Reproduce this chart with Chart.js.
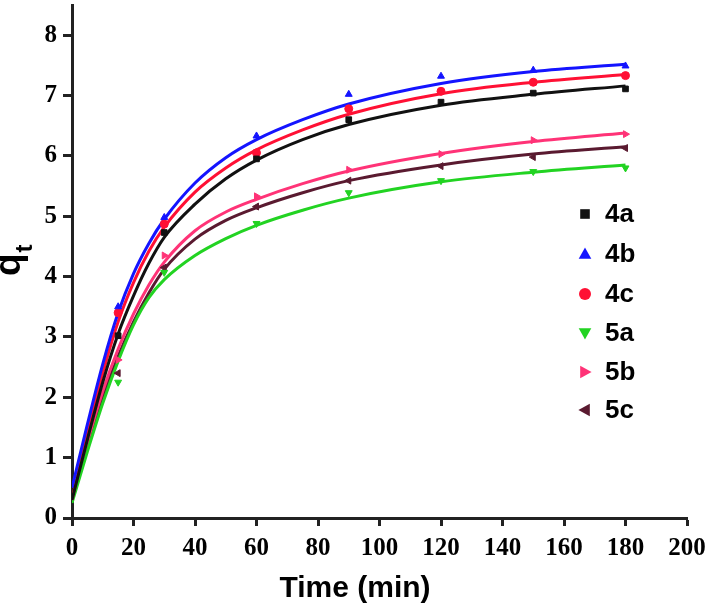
<!DOCTYPE html>
<html><head><meta charset="utf-8">
<script src="https://cdn.jsdelivr.net/npm/chart.js@4/dist/chart.umd.min.js"></script>
<style>html,body{margin:0;padding:0;background:#fff}#wrap{width:708px;height:607px}</style>
</head><body><div id="wrap"><canvas id="c" width="708" height="607"></canvas></div>
<script>
// ---- data ----
const seriesNames = ['4a','4b','4c','5a','5b','5c'];
const timePoints = [15, 30, 60, 90, 120, 150, 180];
const q4a = [3.02, 4.73, 5.95, 6.60, 6.89, 7.04, 7.11];
const q4b = [3.50, 4.98, 6.33, 7.02, 7.32, 7.42, 7.49];
const q4c = [3.40, 4.87, 6.05, 6.78, 7.07, 7.22, 7.33];
const q5a = [2.25, 4.07, 4.88, 5.39, 5.59, 5.74, 5.80];
const q5b = [2.62, 4.35, 5.33, 5.77, 6.03, 6.26, 6.36];
const q5c = [2.40, 4.15, 5.16, 5.59, 5.83, 5.98, 6.13];

// fitted curves
const fitTimes = [0, 5, 10, 15, 20, 25, 30, 40, 50, 60, 75, 90, 120, 150, 180];
const fit4a = [0.30, 1.30, 2.25, 3.05, 3.68, 4.22, 4.65, 5.20, 5.62, 5.93, 6.27, 6.52, 6.84, 7.02, 7.16];
const fit4b = [0.50, 1.55, 2.55, 3.40, 4.05, 4.55, 4.95, 5.55, 5.97, 6.27, 6.60, 6.86, 7.20, 7.40, 7.52];
const fit4c = [0.30, 1.40, 2.40, 3.25, 3.90, 4.42, 4.82, 5.40, 5.80, 6.10, 6.43, 6.69, 7.03, 7.22, 7.35];
const fit5a = [0.25, 1.10, 1.90, 2.60, 3.20, 3.65, 3.95, 4.35, 4.63, 4.85, 5.10, 5.30, 5.57, 5.73, 5.85];
const fit5b = [0.30, 1.25, 2.10, 2.80, 3.38, 3.86, 4.24, 4.76, 5.07, 5.28, 5.54, 5.75, 6.04, 6.24, 6.38];
const fit5c = [0.30, 1.20, 2.00, 2.68, 3.25, 3.73, 4.12, 4.62, 4.93, 5.14, 5.39, 5.59, 5.85, 6.03, 6.15];

const xTickValues = [0, 20, 40, 60, 80, 100, 120, 140, 160, 180, 200];
const yTickValues = [0, 1, 2, 3, 4, 5, 6, 7, 8];

const colors = ['#111111', '#1414ff', '#ff1034', '#22d322', '#ff3377', '#5a1a30'];
const styles = ['rect', 'triangle', 'circle', 'triangle', 'triangle', 'triangle'];
const rotations = [0, 0, 0, 180, 90, 270];
const pointSets = [q4a, q4b, q4c, q5a, q5b, q5c];
const fitSets = [fit4a, fit4b, fit4c, fit5a, fit5b, fit5c];

const datasets = [];
fitSets.forEach((fs, i) => {
  datasets.push({
    label: seriesNames[i] + ' fit',
    data: fitTimes.map((t, k) => ({x: t, y: fs[k]})),
    showLine: true, pointRadius: 0, borderWidth: 3,
    borderColor: colors[i], backgroundColor: colors[i],
    cubicInterpolationMode: 'monotone', order: 2
  });
});
pointSets.forEach((ps, i) => {
  datasets.push({
    label: seriesNames[i],
    data: timePoints.map((t, k) => ({x: t, y: ps[k]})),
    showLine: false, pointStyle: styles[i], rotation: rotations[i],
    pointRadius: 4, borderWidth: 1,
    borderColor: colors[i], backgroundColor: colors[i], order: 1
  });
});

const tickFont = {family: '"Liberation Serif", "Times New Roman", serif', size: 25, weight: 'bold'};

const decorPlugin = {
  id: 'decor',
  afterDraw(chart) {
    const ctx = chart.ctx;
    ctx.save();
    // x axis title
    ctx.fillStyle = '#000';
    ctx.font = 'bold 30px "Liberation Sans", Arial, sans-serif';
    ctx.textAlign = 'center';
    ctx.textBaseline = 'alphabetic';
    ctx.fillText('Time (min)', 355, 597);
    // y axis title q_t
    ctx.save();
    ctx.translate(20, 276);
    ctx.rotate(-Math.PI / 2);
    ctx.textAlign = 'left';
    ctx.font = 'bold 37px "Liberation Sans", Arial, sans-serif';
    ctx.fillText('q', 0, 0);
    const qw = ctx.measureText('q').width;
    ctx.font = 'bold 24px "Liberation Sans", Arial, sans-serif';
    ctx.fillText('t', qw + 1, 12);
    ctx.restore();
    // legend
    const rows = [214, 254, 294, 333, 372, 410];
    ctx.font = 'bold 26px "Liberation Sans", Arial, sans-serif';
    ctx.textAlign = 'left';
    ctx.textBaseline = 'middle';
    seriesNames.forEach((name, i) => {
      const y = rows[i];
      const x = 585;
      ctx.fillStyle = colors[i];
      ctx.save();
      ctx.translate(x, y);
      ctx.rotate(rotations[i] * Math.PI / 180);
      ctx.beginPath();
      const r = 6;
      if (styles[i] === 'rect') {
        ctx.rect(-r * 0.8, -r * 0.8, r * 1.6, r * 1.6);
      } else if (styles[i] === 'circle') {
        ctx.arc(0, 0, r, 0, Math.PI * 2);
      } else {
        ctx.moveTo(0, -r * 1.1);
        ctx.lineTo(r * 1.05, r * 0.8);
        ctx.lineTo(-r * 1.05, r * 0.8);
        ctx.closePath();
      }
      ctx.fill();
      ctx.restore();
      ctx.fillStyle = '#000';
      ctx.fillText(name, 605, y + 1);
    });
    ctx.restore();
  }
};

new Chart(document.getElementById('c'), {
  type: 'scatter',
  data: {datasets},
  options: {
    responsive: false, animation: false, devicePixelRatio: 1,
    layout: {padding: {left: 0, right: 21, top: 3, bottom: 0}},
    plugins: {legend: {display: false}, tooltip: {enabled: false}, title: {display: false}},
    scales: {
      x: {
        type: 'linear', min: 0, max: 200,
        afterBuildTicks: s => { s.ticks = xTickValues.map(v => ({value: v})); },
        afterFit: s => { s.height = 89; s.paddingLeft = 0; s.paddingRight = 0; },
        ticks: {font: tickFont, color: '#000', padding: 8, maxRotation: 0, autoSkip: false},
        grid: {drawOnChartArea: false, drawTicks: true, tickLength: 8, tickWidth: 3, tickColor: '#222'},
        border: {display: true, width: 3, color: '#222'}
      },
      y: {
        type: 'linear', min: 0, max: 8.5,
        afterBuildTicks: s => { s.ticks = yTickValues.map(v => ({value: v})); },
        afterFit: s => { s.width = 72; s.paddingTop = 0; s.paddingBottom = 0; },
        ticks: {font: tickFont, color: '#000', padding: 6, autoSkip: false},
        grid: {drawOnChartArea: false, drawTicks: true, tickLength: 9, tickWidth: 3, tickColor: '#222'},
        border: {display: true, width: 3, color: '#222'}
      }
    }
  },
  plugins: [decorPlugin]
});
</script>
</body></html>
